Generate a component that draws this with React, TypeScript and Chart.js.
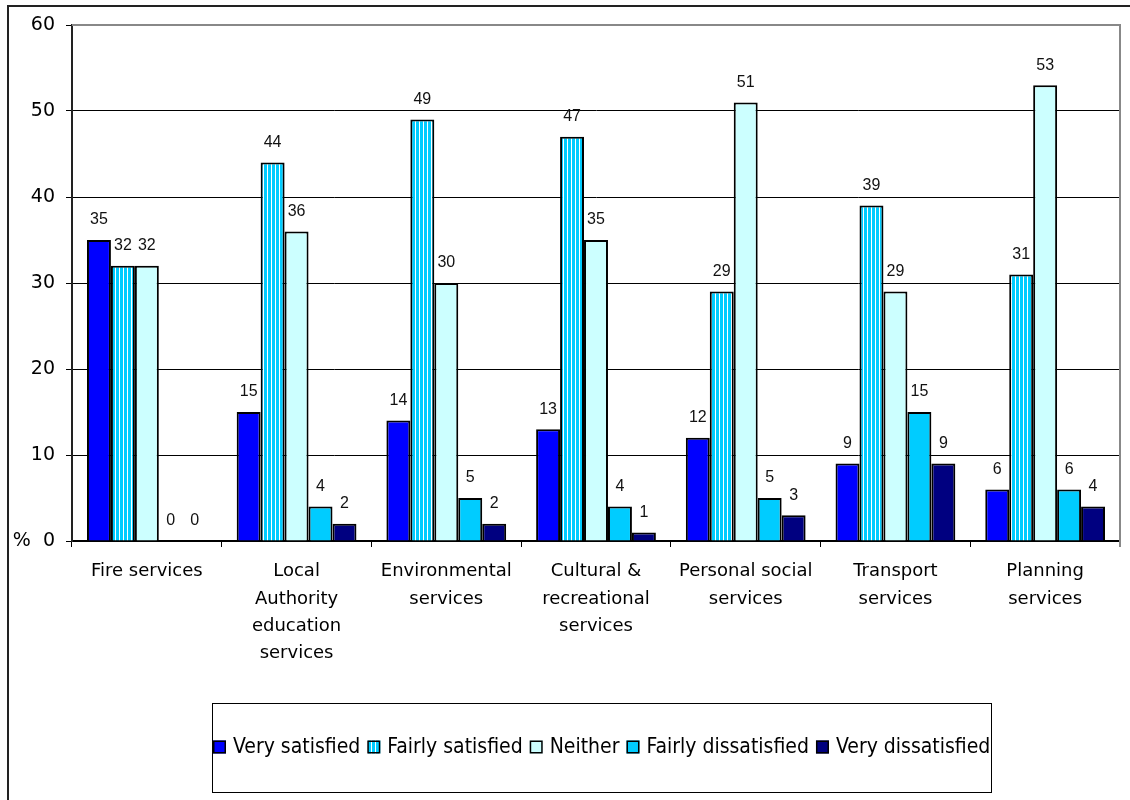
import React, { useEffect, useRef } from 'react';
import { Chart, registerables } from 'chart.js';

Chart.register(...registerables);

const categories: (string | string[])[] = [
  'Fire services',
  ['Local', 'Authority', 'education', 'services'],
  ['Environmental', 'services'],
  ['Cultural &', 'recreational', 'services'],
  ['Personal social', 'services'],
  ['Transport', 'services'],
  ['Planning', 'services'],
];

const seriesNames = ['Very satisfied', 'Fairly satisfied', 'Neither', 'Fairly dissatisfied', 'Very dissatisfied'];

const verySatisfied = [35, 15, 14, 13, 12, 9, 6];
const fairlySatisfied = [32, 44, 49, 47, 29, 39, 31];
const neither = [32, 36, 30, 35, 51, 29, 53];
const fairlyDissatisfied = [0, 4, 5, 4, 5, 15, 6];
const veryDissatisfied = [0, 2, 2, 1, 3, 9, 4];

const yTickValues = [0, 10, 20, 30, 40, 50, 60];
const yTickLabels = ['%  0', '10', '20', '30', '40', '50', '60'];

function makeStripes(ctx: CanvasRenderingContext2D) {
  const c = document.createElement('canvas');
  c.width = 4;
  c.height = 4;
  const g = c.getContext('2d')!;
  g.fillStyle = '#ffffff';
  g.fillRect(0, 0, 4, 4);
  g.fillStyle = '#00ccff';
  g.fillRect(0, 0, 3, 4);
  return ctx.createPattern(c, 'repeat')!;
}

const framePlugin = {
  id: 'frame',
  beforeDraw(chart: any) {
    const ctx = chart.ctx;
    ctx.save();
    ctx.fillStyle = '#ffffff';
    ctx.fillRect(0, 0, chart.width, chart.height);
    ctx.strokeStyle = '#222222';
    ctx.lineWidth = 2;
    ctx.beginPath();
    ctx.moveTo(8, chart.height);
    ctx.lineTo(8, 6);
    ctx.lineTo(chart.width, 6);
    ctx.stroke();
    ctx.restore();
  },
  beforeDatasetsDraw(chart: any) {
    const { ctx, chartArea } = chart;
    ctx.save();
    ctx.strokeStyle = '#888888';
    ctx.lineWidth = 2;
    ctx.beginPath();
    ctx.moveTo(chartArea.left, chartArea.top);
    ctx.lineTo(chartArea.right, chartArea.top);
    ctx.lineTo(chartArea.right, chartArea.bottom + 6);
    ctx.stroke();
    ctx.restore();
  },
};

const valueLabelPlugin = {
  id: 'valueLabels',
  afterDatasetsDraw(chart: any) {
    const ctx = chart.ctx;
    ctx.save();
    ctx.font = '16px "Liberation Sans", Arial, sans-serif';
    ctx.fillStyle = '#111111';
    ctx.textAlign = 'center';
    ctx.textBaseline = 'middle';
    chart.data.datasets.forEach((ds: any, i: number) => {
      const meta = chart.getDatasetMeta(i);
      meta.data.forEach((el: any, j: number) => {
        ctx.fillText(String(ds.data[j]), el.x, el.y - 20);
      });
    });
    ctx.restore();
  },
};

const boxLegendPlugin = {
  id: 'boxLegend',
  afterDraw(chart: any) {
    const ctx = chart.ctx;
    const l = 212, t = 703, r = 991, b = 792;
    ctx.save();
    ctx.fillStyle = '#ffffff';
    ctx.fillRect(l, t, r - l, b - t);
    ctx.strokeStyle = '#000000';
    ctx.lineWidth = 1;
    ctx.strokeRect(l + 0.5, t + 0.5, r - l, b - t);
    ctx.font = '21px "DejaVu Sans Condensed", "DejaVu Sans", sans-serif';
    const sq = 13, gapIn = 7, gapOut = 7;
    const items = chart.data.datasets.map((ds: any) => ({
      label: ds.label,
      fill: ds.backgroundColor,
      w: ctx.measureText(ds.label).width,
    }));
    const total = items.reduce((s: number, it: any) => s + sq + gapIn + it.w, 0) + gapOut * (items.length - 1);
    let x = Math.round((l + r) / 2 - total / 2);
    const cy = 747;
    ctx.textAlign = 'left';
    ctx.textBaseline = 'middle';
    items.forEach((it: any) => {
      ctx.fillStyle = it.fill;
      ctx.fillRect(x, cy - sq / 2, sq, sq);
      ctx.strokeStyle = '#000000';
      ctx.lineWidth = 1.5;
      ctx.strokeRect(x + 0.75, cy - sq / 2 + 0.75, sq - 1.5, sq - 1.5);
      ctx.fillStyle = '#000000';
      ctx.fillText(it.label, x + sq + gapIn, cy + 1);
      x += sq + gapIn + it.w + gapOut;
    });
    ctx.restore();
  },
};

export default function App() {
  const ref = useRef<HTMLCanvasElement>(null);

  useEffect(() => {
    const canvas = ref.current!;
    const ctx = canvas.getContext('2d')!;
    const stripes = makeStripes(ctx);
    const fills = ['#0000ff', stripes, '#ccffff', '#00ccff', '#000080'];
    const series = [verySatisfied, fairlySatisfied, neither, fairlyDissatisfied, veryDissatisfied];

    const chart = new Chart(canvas, {
      type: 'bar',
      data: {
        labels: categories,
        datasets: series.map((data, i) => ({
          label: seriesNames[i],
          data,
          backgroundColor: fills[i] as any,
          borderColor: '#000000',
          borderWidth: 2,
          categoryPercentage: 0.8,
          barPercentage: 1.0,
        })),
      },
      options: {
        responsive: false,
        animation: false,
        devicePixelRatio: 1,
        layout: { padding: { top: 25, right: 10, left: 0, bottom: 0 } },
        plugins: {
          legend: { display: false },
          tooltip: { enabled: false },
        },
        scales: {
          x: {
            type: 'category',
            offset: true,
            grid: {
              offset: true,
              drawOnChartArea: false,
              drawTicks: true,
              tickLength: 6,
              color: '#000000',
              lineWidth: 1,
            },
            border: { display: true, color: '#000000', width: 2 },
            ticks: {
              font: { family: '"DejaVu Sans", Verdana, sans-serif', size: 18, lineHeight: 1.52 },
              color: '#000000',
              padding: 11,
              maxRotation: 0,
              minRotation: 0,
              autoSkip: false,
            },
            afterFit: (s: any) => {
              s.height = 259;
            },
          },
          y: {
            min: 0,
            max: 60,
            afterBuildTicks: (s: any) => {
              s.ticks = yTickValues.map((v) => ({ value: v }));
            },
            ticks: {
              font: { family: '"DejaVu Sans", Verdana, sans-serif', size: 19 },
              color: '#000000',
              padding: 11,
              callback: (v: any) => {
                const idx = yTickValues.indexOf(Number(v));
                return idx >= 0 ? yTickLabels[idx] : '';
              },
            },
            grid: {
              color: '#000000',
              lineWidth: 1,
              tickLength: 6,
              tickColor: '#000000',
            },
            border: { display: true, color: '#222222', width: 2 },
            afterFit: (s: any) => {
              s.width = 72;
            },
          },
        },
      },
      plugins: [framePlugin, valueLabelPlugin, boxLegendPlugin],
    });

    return () => chart.destroy();
  }, []);

  return (
    <div style={{ position: 'fixed', left: 0, top: 0, width: 1130, height: 800, background: '#ffffff' }}>
      <canvas ref={ref} width={1130} height={800} style={{ display: 'block', width: 1130, height: 800 }} />
    </div>
  );
}
